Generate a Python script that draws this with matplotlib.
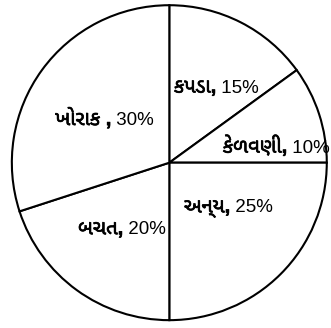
import matplotlib
matplotlib.use("Agg")
import matplotlib.pyplot as plt
import matplotlib.patheffects as pe
from matplotlib import font_manager
from matplotlib.ft2font import FT2Font
from matplotlib.offsetbox import TextArea, HPacker, AnnotationBbox

# datos
categorias = ["કપડા", "કેળવણી", "અન્ય", "બચત", "ખોરાક "]
porcentajes = [15, 10, 25, 20, 30]

# posicion de cada etiqueta (x, y en unidades del radio)
pos_etiquetas = [(0.30, 0.48), (0.68, 0.105), (0.376, -0.285), (-0.30, -0.42), (-0.41, 0.28)]

# buscar una fuente con glifos gujarati (mejor sans, nunca mono)
guj = []
for f in font_manager.fontManager.ttflist:
    try:
        if FT2Font(f.fname).get_char_index(0x0A95):
            guj.append(f.name)
    except Exception:
        pass
guj = sorted(set(guj), key=lambda n: ("Mono" in n, "Sans" not in n, n))
familias = ["Liberation Sans"] + guj + ["DejaVu Sans"]

fig = plt.figure(figsize=(3.31, 3.28), dpi=100)
ax = fig.add_axes([0.031, 0.019, 0.961, 0.97])

ax.pie(porcentajes, startangle=90, counterclock=False, colors=["white"] * len(porcentajes),
       wedgeprops=dict(edgecolor="black", linewidth=1.5))

# la fuente gujarati no tiene negrita: se engrosa con un trazo
grueso = [pe.withStroke(linewidth=0.5, foreground="black")]
for cat, p, (x, y) in zip(categorias, porcentajes, pos_etiquetas):
    t1 = TextArea(cat + ",", textprops=dict(fontsize=14.5, weight="bold", family=familias,
                                            path_effects=grueso))
    t2 = TextArea(f" {p}%", textprops=dict(fontsize=13.5, family=familias))
    caja = HPacker(children=[t1, t2], sep=0, pad=0, align="baseline")
    ax.add_artist(AnnotationBbox(caja, (x, y), frameon=False, box_alignment=(0.5, 0.5), pad=0))

ax.set_xlim(-1.01, 1.01)
ax.set_ylim(-1.01, 1.01)
ax.axis("off")

fig.savefig("out.png", dpi=100)
